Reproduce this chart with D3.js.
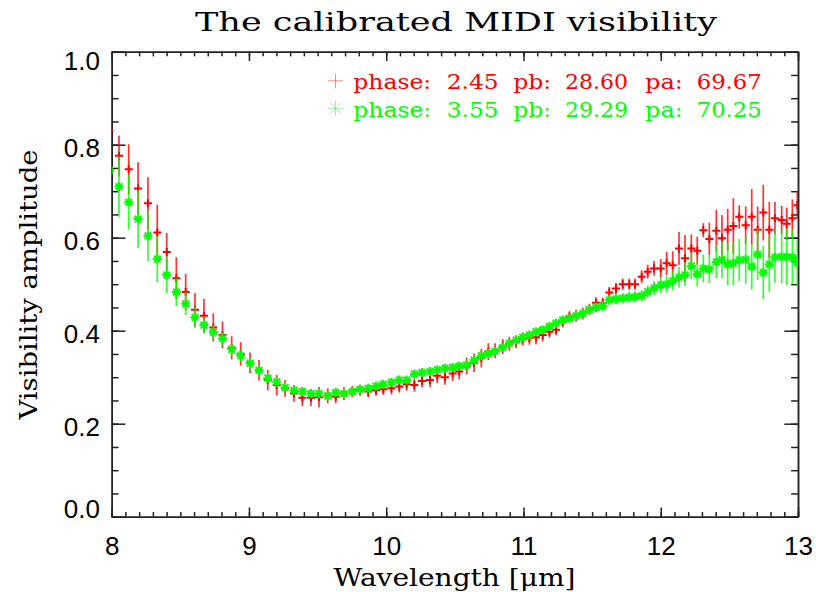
<!DOCTYPE html>
<html>
<head>
<meta charset="utf-8">
<script src="https://cdn.jsdelivr.net/npm/d3@7"></script>
<style>
  body { margin: 0; background: #fff; }
  svg { display: block; }
  .axis path, .axis line { stroke: #222; stroke-width: 1.5; }
  .axis text { font-family: "Liberation Sans", Arial, sans-serif; font-size: 26px; fill: #000; }
</style>
</head>
<body>
<div id="chart"></div>
<script>
// wavelength grid (micron)
const wavelength = [7.983, 8.053, 8.124, 8.192, 8.264, 8.332, 8.401, 8.471, 8.539, 8.607,
  8.672, 8.740, 8.807, 8.874, 8.940, 9.008, 9.073, 9.137, 9.202, 9.263,
  9.328, 9.389, 9.452, 9.510, 9.574, 9.632, 9.692, 9.753, 9.809, 9.869,
  9.926, 9.979, 10.038, 10.095, 10.149, 10.205, 10.261, 10.319, 10.372, 10.428,
  10.484, 10.532, 10.586, 10.640, 10.693, 10.744, 10.793, 10.849, 10.897, 10.946,
  10.994, 11.043, 11.091, 11.140, 11.189, 11.237, 11.286, 11.335, 11.383, 11.431,
  11.480, 11.528, 11.577, 11.625, 11.674, 11.723, 11.771, 11.813, 11.861, 11.905,
  11.951, 12.000, 12.043, 12.087, 12.133, 12.177, 12.223, 12.266, 12.310, 12.354,
  12.405, 12.446, 12.488, 12.529, 12.572, 12.619, 12.663, 12.706, 12.747, 12.791,
  12.832, 12.881, 12.918, 12.959, 12.995];

// red series (phase 2.45)
const visRed = [0.831, 0.776, 0.747, 0.706, 0.674, 0.611, 0.569, 0.513, 0.483, 0.445,
  0.432, 0.407, 0.391, 0.363, 0.350, 0.331, 0.315, 0.294, 0.283, 0.276,
  0.265, 0.256, 0.256, 0.257, 0.260, 0.258, 0.265, 0.269, 0.272, 0.269,
  0.272, 0.274, 0.276, 0.280, 0.285, 0.283, 0.292, 0.294, 0.303, 0.300,
  0.308, 0.312, 0.324, 0.331, 0.341, 0.355, 0.357, 0.366, 0.372, 0.376,
  0.382, 0.384, 0.386, 0.391, 0.398, 0.402, 0.419, 0.430, 0.432, 0.437,
  0.446, 0.460, 0.459, 0.482, 0.491, 0.500, 0.500, 0.500, 0.516, 0.527,
  0.534, 0.534, 0.545, 0.541, 0.577, 0.556, 0.577, 0.572, 0.616, 0.597,
  0.615, 0.599, 0.617, 0.625, 0.645, 0.627, 0.645, 0.617, 0.654, 0.617,
  0.642, 0.638, 0.630, 0.642, 0.670];
const errRed = [0.045, 0.044, 0.054, 0.056, 0.056, 0.060, 0.041, 0.045, 0.039, 0.036,
  0.036, 0.030, 0.029, 0.025, 0.025, 0.022, 0.022, 0.022, 0.022, 0.018,
  0.018, 0.018, 0.018, 0.022, 0.016, 0.014, 0.014, 0.012, 0.012, 0.012,
  0.012, 0.012, 0.013, 0.013, 0.014, 0.014, 0.014, 0.015, 0.016, 0.016,
  0.016, 0.017, 0.018, 0.020, 0.020, 0.018, 0.016, 0.016, 0.015, 0.014,
  0.014, 0.014, 0.015, 0.014, 0.013, 0.012, 0.012, 0.012, 0.013, 0.013,
  0.012, 0.012, 0.012, 0.012, 0.012, 0.012, 0.012, 0.012, 0.014, 0.015,
  0.016, 0.020, 0.025, 0.030, 0.035, 0.050, 0.030, 0.030, 0.015, 0.035,
  0.045, 0.050, 0.045, 0.060, 0.025, 0.040, 0.060, 0.050, 0.060, 0.060,
  0.035, 0.030, 0.035, 0.040, 0.030];

// green series (phase 3.55)
const visGreen = [0.745, 0.710, 0.676, 0.640, 0.604, 0.554, 0.520, 0.483, 0.458, 0.429,
  0.412, 0.397, 0.383, 0.360, 0.346, 0.330, 0.315, 0.298, 0.290, 0.278,
  0.272, 0.269, 0.265, 0.265, 0.260, 0.267, 0.265, 0.269, 0.274, 0.276,
  0.281, 0.285, 0.289, 0.294, 0.294, 0.307, 0.310, 0.312, 0.316, 0.319,
  0.321, 0.324, 0.326, 0.337, 0.346, 0.351, 0.356, 0.364, 0.373, 0.380,
  0.386, 0.391, 0.398, 0.402, 0.409, 0.416, 0.423, 0.427, 0.432, 0.437,
  0.445, 0.450, 0.453, 0.466, 0.468, 0.470, 0.472, 0.473, 0.475, 0.484,
  0.492, 0.498, 0.500, 0.507, 0.515, 0.520, 0.539, 0.522, 0.534, 0.532,
  0.548, 0.553, 0.543, 0.545, 0.552, 0.553, 0.538, 0.564, 0.525, 0.543,
  0.558, 0.559, 0.559, 0.558, 0.546];
const errGreen = [0.065, 0.065, 0.059, 0.062, 0.054, 0.050, 0.039, 0.030, 0.025, 0.023,
  0.018, 0.016, 0.015, 0.014, 0.013, 0.012, 0.012, 0.011, 0.010, 0.010,
  0.009, 0.009, 0.009, 0.009, 0.009, 0.008, 0.008, 0.008, 0.008, 0.008,
  0.008, 0.008, 0.008, 0.008, 0.008, 0.008, 0.008, 0.008, 0.008, 0.008,
  0.008, 0.008, 0.008, 0.008, 0.008, 0.008, 0.008, 0.008, 0.008, 0.008,
  0.008, 0.008, 0.008, 0.009, 0.009, 0.009, 0.009, 0.009, 0.009, 0.010,
  0.010, 0.010, 0.010, 0.011, 0.011, 0.011, 0.012, 0.012, 0.012, 0.013,
  0.015, 0.017, 0.018, 0.020, 0.022, 0.024, 0.028, 0.027, 0.030, 0.030,
  0.035, 0.040, 0.045, 0.047, 0.045, 0.052, 0.050, 0.055, 0.057, 0.059,
  0.055, 0.057, 0.060, 0.058, 0.050];

const xTicks = [8, 9, 10, 11, 12, 13];
const yTicks = [0.0, 0.2, 0.4, 0.6, 0.8, 1.0];
const legendLabels = ["phase: 2.45 pb: 28.60 pa: 69.67", "phase: 3.55 pb: 29.29 pa: 70.25"];

const width = 816, height = 592;
const margin = {top: 51.7, right: 18, bottom: 75.3, left: 111.7};
const innerW = width - margin.left - margin.right;
const innerH = height - margin.top - margin.bottom;

const svg = d3.select("#chart").append("svg")
    .attr("width", width)
    .attr("height", height);

const x = d3.scaleLinear().domain([8, 13]).range([margin.left, width - margin.right]);
const y = d3.scaleLinear().domain([0, 1]).range([height - margin.bottom, margin.top]);

svg.append("clipPath").attr("id", "plot-clip")
  .append("rect")
    .attr("x", margin.left).attr("y", margin.top)
    .attr("width", innerW).attr("height", innerH);

// ticks are IDL style: pointing inward on all four sides
const xMajor = -innerH * 0.02, yMajor = -innerW * 0.02;
const xMinorVals = d3.range(80, 131).map(d => d / 10);
const yMinorVals = d3.range(0, 21).map(d => d / 20);

function addAxis(axis, tx, ty) {
    return svg.append("g").attr("class", "axis")
        .attr("transform", `translate(${tx},${ty})`)
        .call(axis);
}

const yBase = height - margin.bottom, xRight = width - margin.right;

addAxis(d3.axisBottom(x).tickValues(xMinorVals).tickSize(xMajor / 2).tickSizeOuter(0).tickFormat(""), 0, yBase);
addAxis(d3.axisTop(x).tickValues(xMinorVals).tickSize(xMajor / 2).tickSizeOuter(0).tickFormat(""), 0, margin.top);
addAxis(d3.axisLeft(y).tickValues(yMinorVals).tickSize(yMajor / 2).tickSizeOuter(0).tickFormat(""), margin.left, 0);
addAxis(d3.axisRight(y).tickValues(yMinorVals).tickSize(yMajor / 2).tickSizeOuter(0).tickFormat(""), xRight, 0);

addAxis(d3.axisTop(x).tickValues(xTicks).tickSize(xMajor).tickSizeOuter(0).tickFormat(""), 0, margin.top);
addAxis(d3.axisRight(y).tickValues(yTicks).tickSize(yMajor).tickSizeOuter(0).tickFormat(""), xRight, 0);

addAxis(d3.axisBottom(x).tickValues(xTicks).tickSize(xMajor).tickSizeOuter(0)
    .tickPadding(20).tickFormat(d3.format("d")), 0, yBase);

// y labels: a bit below the tick, but kept inside the axis range
const yAx = addAxis(d3.axisLeft(y).tickValues(yTicks).tickSize(yMajor).tickSizeOuter(0)
    .tickPadding(11.7).tickFormat(d3.format(".1f")), margin.left, 0);
yAx.selectAll("text")
    .attr("y", d => {
        const c = Math.min(Math.max(y(d) + 3.5, margin.top + 9.3), yBase - 7.2);
        return c - y(d);
    });

// error bars and symbols
const plotArea = svg.append("g").attr("clip-path", "url(#plot-clip)");

const plusPath = "M-4,0H4M0,-4V4";
const starPath = "M-4.5,0H4.5M0,-4.5V4.5M-3.3,-3.3L3.3,3.3M-3.3,3.3L3.3,-3.3";

function drawSeries(vals, errs, color, symbol) {
    const rows = wavelength.map((w, i) => ({w: w, v: vals[i], e: errs[i]}));
    const g = plotArea.append("g");
    g.selectAll(".err")
        .data(rows)
        .enter().append("line")
        .attr("class", "err")
        .attr("x1", d => x(d.w)).attr("x2", d => x(d.w))
        .attr("y1", d => y(d.v - d.e)).attr("y2", d => y(d.v + d.e))
        .attr("stroke", color)
        .attr("stroke-width", 1.7)
        .attr("stroke-opacity", 0.8);
    g.selectAll(".sym")
        .data(rows)
        .enter().append("path")
        .attr("class", "sym")
        .attr("transform", d => `translate(${x(d.w)},${y(d.v)})`)
        .attr("d", symbol)
        .attr("fill", "none")
        .attr("stroke", color)
        .attr("stroke-width", 2);
}

drawSeries(visRed, errRed, "#ff0000", plusPath);
drawSeries(visGreen, errGreen, "#00ff00", starPath);

// legend, words laid out on the wide spacing of the original font
const legendColors = ["#ff0000", "#00ff00"];
const legendSyms = ["M-7.5,0H7.5M0,-7.5V7.5",
    "M-7.5,0H7.5M0,-7.5V7.5M-5.3,-5.3L5.3,5.3M-5.3,5.3L5.3,-5.3"];
const legendBase = [89.3, 116.7];
const wordX = [353.3, 446.7, 513.3, 565, 645, 696.7];
const wordW = [78, 52, 38, 63, 38, 65];

legendLabels.forEach((label, i) => {
    svg.append("path")
        .attr("transform", `translate(335.5,${legendBase[i] - 8.5})`)
        .attr("d", legendSyms[i])
        .attr("fill", "none")
        .attr("stroke", legendColors[i])
        .attr("stroke-width", 1)
        .attr("stroke-opacity", 0.45);
    const t = svg.append("text")
        .attr("y", legendBase[i])
        .attr("font-family", "DejaVu Serif, serif")
        .attr("font-size", 21)
        .attr("fill", legendColors[i]);
    label.split(" ").forEach((word, j) => {
        t.append("tspan")
            .attr("x", wordX[j])
            .attr("textLength", wordW[j])
            .attr("lengthAdjust", "spacingAndGlyphs")
            .text(word);
    });
});

// titles
function addLabel(txt, size, len) {
    return svg.append("text")
        .attr("font-family", "DejaVu Serif, serif")
        .attr("font-size", size)
        .attr("text-anchor", "middle")
        .attr("fill", "#000")
        .attr("textLength", len)
        .attr("lengthAdjust", "spacingAndGlyphs")
        .text(txt);
}

addLabel("The calibrated MIDI visibility", 25.5, 522)
    .attr("x", 456).attr("y", 31);

addLabel("Wavelength [\u03bcm]", 24.5, 242)
    .attr("x", 454.5).attr("y", 586);

addLabel("Visibility amplitude", 24.5, 270)
    .attr("transform", "translate(37,284.5) rotate(-90)");
</script>
</body>
</html>
